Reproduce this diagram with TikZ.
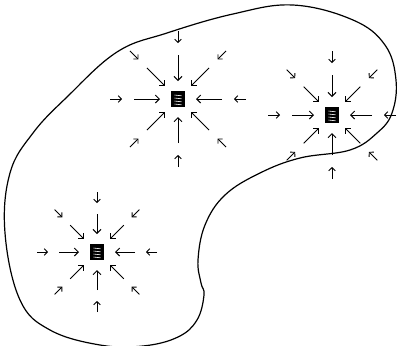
\documentclass[tikz,border=0pt]{standalone}
\usetikzlibrary{arrows.meta,calc}
\tikzset{
  sink/.style={rectangle,draw=black,line width=0.9pt,fill=black,
               minimum width=13pt,minimum height=15pt,inner sep=0pt,
               path picture={
                 \foreach \k in {-4,-1,2,5}
                   \draw[white,line width=0.6pt]
                     ($(path picture bounding box.center)+(-3.5,\k)$)
                     -- ++(7,0.8);
               }},
  inflow/.style={-{Straight Barb[length=4pt,width=8pt]},line width=1pt},
  seep/.style={-{Straight Barb[length=3.2pt,width=6.5pt]},line width=0.9pt},
  basin/.style={line width=1.2pt,line join=round}
}
\begin{document}
\begin{tikzpicture}[x=1pt,y=-1pt]
  \useasboundingbox (0,0) rectangle (397,346);

  % kidney-shaped region
  \draw[basin] plot[smooth cycle,tension=0.65] coordinates {
    (293,5) (353,20) (385,45) (396,80) (392,113) (377,133) (350,150)
    (300,158) (260,173) (225,195) (205,225) (198,260) (201,283)
    (204,295) (197,320) (178,337) (143,346) (100,345) (50,330)
    (20,300) (5,233) (10,173) (33,133) (67,97) (117,52) (167,33)
    (233,14)};

  % sinks
  \node[sink] (s1) at (178,99) {};
  \node[sink] (s2) at (332,115) {};
  \node[sink] (s3) at (97,252) {};

  % flow towards each sink
  \foreach \s/\rl/\rs/\re in {s1/44/68/56, s2/40/64/52, s3/38/60/49} {
    \foreach \a in {0,45,...,315} {
      \draw[inflow] ($(\s)+(\a:\rl)$) -- ($(\s)+(\a:18)$);
      \draw[seep] ($(\s)+(\a:\rs)$) -- ($(\s)+(\a:\re)$);
    }
  }
\end{tikzpicture}
\end{document}
